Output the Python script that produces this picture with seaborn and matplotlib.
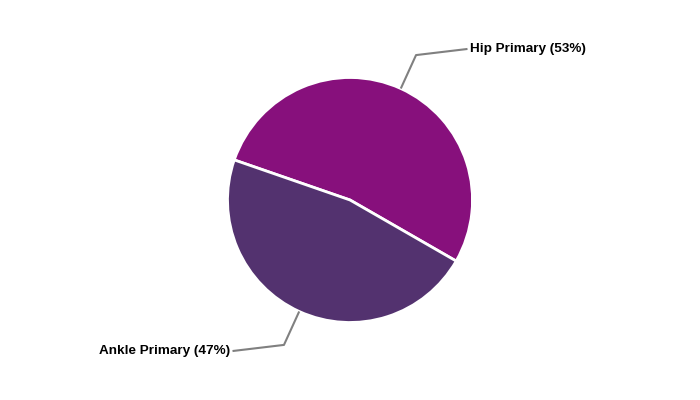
import numpy as np
import matplotlib
matplotlib.use('Agg')
import matplotlib.pyplot as plt
import seaborn as sns

# dados
categorias = ['Hip Primary', 'Ankle Primary']
valores = [53, 47]
cores = ['#87107C', '#53326F']

sns.set_theme(style='white')
plt.rcParams['font.family'] = ['Liberation Sans', 'DejaVu Sans']

fig = plt.figure(figsize=(7, 4), dpi=100)
ax = fig.add_axes([0, 0, 1, 1])

raio_px = 122.5

wedges, _ = ax.pie(valores, colors=cores, startangle=-29.9, counterclock=True,
                   radius=1.0, center=(0, 0),
                   wedgeprops=dict(edgecolor='white', linewidth=2))
ax.set_xlim(-350 / raio_px, 350 / raio_px)
ax.set_ylim(-200 / raio_px, 200 / raio_px)
ax.set_aspect('equal')
ax.axis('off')

total = sum(valores)
for w, cat, val in zip(wedges, categorias, valores):
    ang = np.deg2rad((w.theta1 + w.theta2) / 2)
    c, s = np.cos(ang), np.sin(ang)
    p0 = (1.0 * c, 1.0 * s)
    p1 = (1.3 * c, 1.3 * s)
    lado = 1 if c >= 0 else -1
    p2 = (p1[0] + lado * 0.42, p1[1] + np.sign(s) * 0.05)
    ax.plot([p0[0], p1[0], p2[0]], [p0[1], p1[1], p2[1]],
            color='#808080', linewidth=1.5, solid_capstyle='butt')
    ax.text(p2[0] + lado * 0.02, p2[1], f'{cat} ({val / total * 100:.0f}%)',
            ha='left' if lado > 0 else 'right', va='center',
            fontsize=9.7, fontweight='bold', color='black')

fig.savefig('out.png', dpi=100, facecolor='white')
